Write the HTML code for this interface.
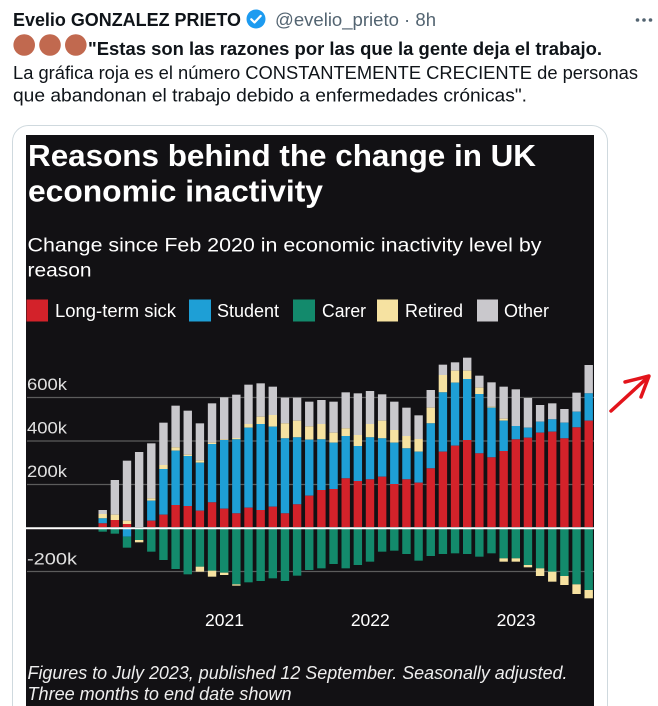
<!DOCTYPE html>
<html><head><meta charset="utf-8"><style>
html,body{margin:0;padding:0;background:#fff;width:658px;height:706px;overflow:hidden}
svg{display:block}
.t{font-family:"Liberation Sans",Arial,sans-serif}
.G{fill:#c9c8cc}.Y{fill:#f6e2a1}.B{fill:#1e9fd6}.R{fill:#d3222a}.N{fill:#138a6c}
</style></head><body>
<svg width="658" height="706" viewBox="0 0 658 706" xmlns="http://www.w3.org/2000/svg">
<rect width="658" height="706" fill="#fff"/>
<!-- tweet header -->
<text class="t" x="13" y="26" font-size="18.5" font-weight="bold" fill="#0f1419" textLength="228" lengthAdjust="spacingAndGlyphs">Evelio GONZALEZ PRIETO</text>
<circle cx="256" cy="19" r="9.5" fill="#1d9bf0"/>
<path d="M251.3,19.3 l3.2,3.2 l6.2,-6.6" stroke="#fff" stroke-width="2.2" fill="none" stroke-linecap="round" stroke-linejoin="round"/>
<text class="t" x="275" y="26" font-size="18" fill="#536471" textLength="161" lengthAdjust="spacingAndGlyphs">@evelio_prieto · 8h</text>
<circle cx="637.5" cy="20" r="1.8" fill="#536471"/><circle cx="644" cy="20" r="1.8" fill="#536471"/><circle cx="650.5" cy="20" r="1.8" fill="#536471"/>
<circle cx="24.2" cy="45" r="10.8" fill="#c1694f"/><circle cx="50" cy="45" r="10.8" fill="#c1694f"/><circle cx="75.8" cy="45" r="10.8" fill="#c1694f"/>
<text class="t" x="88" y="55" font-size="18.5" font-weight="bold" fill="#0f1419" textLength="514" lengthAdjust="spacingAndGlyphs">"Estas son las razones por las que la gente deja el trabajo.</text>
<text class="t" x="13" y="79" font-size="18.5" fill="#0f1419" textLength="625" lengthAdjust="spacingAndGlyphs">La gráfica roja es el número CONSTANTEMENTE CRECIENTE de personas</text>
<text class="t" x="13" y="101.5" font-size="18.5" fill="#0f1419" textLength="514" lengthAdjust="spacingAndGlyphs">que abandonan el trabajo debido a enfermedades crónicas".</text>
<!-- card -->
<path d="M12.5,706 V141.5 A16,16 0 0 1 28.5,125.5 H591.5 A16,16 0 0 1 607.5,141.5 V706" fill="#fff" stroke="#cfd9de" stroke-width="1"/>
<rect x="26" y="135" width="568" height="571" fill="#121114"/>
<!-- title -->
<text class="t" x="28" y="166" font-size="31" font-weight="bold" fill="#fff" textLength="508" lengthAdjust="spacingAndGlyphs">Reasons behind the change in UK</text>
<text class="t" x="28" y="201.5" font-size="31" font-weight="bold" fill="#fff" textLength="295" lengthAdjust="spacingAndGlyphs">economic inactivity</text>
<text class="t" x="27.5" y="251.5" font-size="19.5" fill="#fff" textLength="514" lengthAdjust="spacingAndGlyphs">Change since Feb 2020 in economic inactivity level by</text>
<text class="t" x="27.5" y="276.5" font-size="19.5" fill="#fff" textLength="64" lengthAdjust="spacingAndGlyphs">reason</text>
<!-- legend -->
<rect x="26.5" y="299.5" width="21.5" height="22" class="R"/>
<text class="t" x="55" y="317" font-size="18.5" fill="#fff" textLength="121" lengthAdjust="spacingAndGlyphs">Long-term sick</text>
<rect x="189" y="299.5" width="22" height="22" class="B"/>
<text class="t" x="217" y="317" font-size="18.5" fill="#fff" textLength="62" lengthAdjust="spacingAndGlyphs">Student</text>
<rect x="293" y="299.5" width="22" height="22" class="N"/>
<text class="t" x="322" y="317" font-size="18.5" fill="#fff" textLength="44" lengthAdjust="spacingAndGlyphs">Carer</text>
<rect x="377" y="299.5" width="21" height="22" class="Y"/>
<text class="t" x="405" y="317" font-size="18.5" fill="#fff" textLength="58" lengthAdjust="spacingAndGlyphs">Retired</text>
<rect x="477" y="299.5" width="21" height="22" class="G"/>
<text class="t" x="504" y="317" font-size="18.5" fill="#fff" textLength="45" lengthAdjust="spacingAndGlyphs">Other</text>
<!-- grid -->
<g stroke="#5c5c5c" stroke-width="1.2">
<line x1="27" y1="397.5" x2="594" y2="397.5"/>
<line x1="27" y1="441" x2="594" y2="441"/>
<line x1="27" y1="484.5" x2="594" y2="484.5"/>
<line x1="27" y1="571.5" x2="594" y2="571.5"/>
</g>
<g class="t" font-size="17" fill="#e0e0e0">
<text x="27" y="390" textLength="40" lengthAdjust="spacingAndGlyphs">600k</text>
<text x="27" y="433.5" textLength="40" lengthAdjust="spacingAndGlyphs">400k</text>
<text x="27" y="477" textLength="40" lengthAdjust="spacingAndGlyphs">200k</text>
<text x="27" y="564.5" textLength="50" lengthAdjust="spacingAndGlyphs">-200k</text>
</g>
<!-- bars -->
<g transform="translate(0,350) scale(1,0.3333333)">
<g transform="translate(98.5,0)"><rect class="G" y="480" width="8.4" height="12"/><rect class="Y" y="492" width="8.4" height="13"/><rect class="B" y="505" width="8.4" height="15"/><rect class="R" y="520" width="8.4" height="11"/><rect class="N" y="536" width="8.4" height="9"/></g>
<g transform="translate(110.65,0)"><rect class="G" y="390" width="8.4" height="104"/><rect class="Y" y="494" width="8.4" height="16"/><rect class="R" y="510" width="8.4" height="21"/><rect class="N" y="536" width="8.4" height="15"/></g>
<g transform="translate(122.8,0)"><rect class="G" y="332" width="8.4" height="180"/><rect class="Y" y="512" width="8.4" height="10"/><rect class="R" y="522" width="8.4" height="9"/><rect class="B" y="536" width="8.4" height="24"/><rect class="N" y="560" width="8.4" height="33"/></g>
<g transform="translate(134.95,0)"><rect class="G" y="306" width="8.4" height="225"/><rect class="N" y="536" width="8.4" height="34"/><rect class="Y" y="570" width="8.4" height="7"/></g>
<g transform="translate(147.1,0)"><rect class="G" y="280" width="8.4" height="165"/><rect class="Y" y="445" width="8.4" height="7"/><rect class="B" y="452" width="8.4" height="60"/><rect class="R" y="512" width="8.4" height="19"/><rect class="N" y="536" width="8.4" height="69"/></g>
<g transform="translate(159.25,0)"><rect class="G" y="218" width="8.4" height="127"/><rect class="Y" y="345" width="8.4" height="12"/><rect class="B" y="357" width="8.4" height="137"/><rect class="R" y="494" width="8.4" height="37"/><rect class="N" y="536" width="8.4" height="94"/></g>
<g transform="translate(171.4,0)"><rect class="G" y="167" width="8.4" height="125"/><rect class="Y" y="292" width="8.4" height="10"/><rect class="B" y="302" width="8.4" height="163"/><rect class="R" y="465" width="8.4" height="66"/><rect class="N" y="536" width="8.4" height="121"/></g>
<g transform="translate(183.55,0)"><rect class="G" y="182" width="8.4" height="132"/><rect class="Y" y="314" width="8.4" height="4"/><rect class="B" y="318" width="8.4" height="150"/><rect class="R" y="468" width="8.4" height="63"/><rect class="N" y="536" width="8.4" height="137"/></g>
<g transform="translate(195.7,0)"><rect class="G" y="220" width="8.4" height="111"/><rect class="Y" y="331" width="8.4" height="7"/><rect class="B" y="338" width="8.4" height="144"/><rect class="R" y="482" width="8.4" height="49"/><rect class="N" y="536" width="8.4" height="114"/><rect class="Y" y="650" width="8.4" height="15"/></g>
<g transform="translate(207.85,0)"><rect class="G" y="160" width="8.4" height="118"/><rect class="Y" y="278" width="8.4" height="4"/><rect class="B" y="282" width="8.4" height="175"/><rect class="R" y="457" width="8.4" height="74"/><rect class="N" y="536" width="8.4" height="126"/><rect class="Y" y="662" width="8.4" height="18"/></g>
<g transform="translate(220,0)"><rect class="G" y="142" width="8.4" height="126"/><rect class="Y" y="268" width="8.4" height="2"/><rect class="B" y="270" width="8.4" height="206"/><rect class="R" y="476" width="8.4" height="55"/><rect class="N" y="536" width="8.4" height="132"/><rect class="Y" y="668" width="8.4" height="7"/></g>
<g transform="translate(232.15,0)"><rect class="G" y="134" width="8.4" height="130"/><rect class="Y" y="264" width="8.4" height="4"/><rect class="B" y="268" width="8.4" height="222"/><rect class="R" y="490" width="8.4" height="41"/><rect class="N" y="536" width="8.4" height="167"/><rect class="Y" y="703" width="8.4" height="4"/></g>
<g transform="translate(244.3,0)"><rect class="G" y="104" width="8.4" height="118"/><rect class="Y" y="222" width="8.4" height="11"/><rect class="B" y="233" width="8.4" height="240"/><rect class="R" y="473" width="8.4" height="58"/><rect class="N" y="536" width="8.4" height="161"/></g>
<g transform="translate(256.45,0)"><rect class="G" y="100" width="8.4" height="100"/><rect class="Y" y="200" width="8.4" height="22"/><rect class="B" y="222" width="8.4" height="258"/><rect class="R" y="480" width="8.4" height="51"/><rect class="N" y="536" width="8.4" height="157"/></g>
<g transform="translate(268.6,0)"><rect class="G" y="110" width="8.4" height="85"/><rect class="Y" y="195" width="8.4" height="35"/><rect class="B" y="230" width="8.4" height="240"/><rect class="R" y="470" width="8.4" height="61"/><rect class="N" y="536" width="8.4" height="149"/></g>
<g transform="translate(280.75,0)"><rect class="G" y="143" width="8.4" height="77"/><rect class="Y" y="220" width="8.4" height="45"/><rect class="B" y="265" width="8.4" height="225"/><rect class="R" y="490" width="8.4" height="41"/><rect class="N" y="536" width="8.4" height="157"/></g>
<g transform="translate(292.9,0)"><rect class="G" y="143" width="8.4" height="69"/><rect class="Y" y="212" width="8.4" height="50"/><rect class="B" y="262" width="8.4" height="201"/><rect class="R" y="463" width="8.4" height="68"/><rect class="N" y="536" width="8.4" height="141"/></g>
<g transform="translate(305.05,0)"><rect class="G" y="155" width="8.4" height="74"/><rect class="Y" y="229" width="8.4" height="40"/><rect class="B" y="269" width="8.4" height="168"/><rect class="R" y="437" width="8.4" height="94"/><rect class="N" y="536" width="8.4" height="124"/></g>
<g transform="translate(317.2,0)"><rect class="G" y="150" width="8.4" height="72"/><rect class="Y" y="222" width="8.4" height="46"/><rect class="B" y="268" width="8.4" height="152"/><rect class="R" y="420" width="8.4" height="111"/><rect class="N" y="536" width="8.4" height="119"/></g>
<g transform="translate(329.35,0)"><rect class="G" y="155" width="8.4" height="93"/><rect class="Y" y="248" width="8.4" height="30"/><rect class="B" y="278" width="8.4" height="139"/><rect class="R" y="417" width="8.4" height="114"/><rect class="N" y="536" width="8.4" height="106"/></g>
<g transform="translate(341.5,0)"><rect class="G" y="127" width="8.4" height="108"/><rect class="Y" y="235" width="8.4" height="23"/><rect class="B" y="258" width="8.4" height="127"/><rect class="R" y="385" width="8.4" height="146"/><rect class="N" y="536" width="8.4" height="119"/></g>
<g transform="translate(353.65,0)"><rect class="G" y="130" width="8.4" height="125"/><rect class="Y" y="255" width="8.4" height="33"/><rect class="B" y="288" width="8.4" height="105"/><rect class="R" y="393" width="8.4" height="138"/><rect class="N" y="536" width="8.4" height="109"/></g>
<g transform="translate(365.8,0)"><rect class="G" y="123" width="8.4" height="99"/><rect class="Y" y="222" width="8.4" height="40"/><rect class="B" y="262" width="8.4" height="126"/><rect class="R" y="388" width="8.4" height="143"/><rect class="N" y="536" width="8.4" height="99"/></g>
<g transform="translate(377.95,0)"><rect class="G" y="133" width="8.4" height="79"/><rect class="Y" y="212" width="8.4" height="53"/><rect class="B" y="265" width="8.4" height="115"/><rect class="R" y="380" width="8.4" height="151"/><rect class="N" y="536" width="8.4" height="69"/></g>
<g transform="translate(390.1,0)"><rect class="G" y="155" width="8.4" height="85"/><rect class="Y" y="240" width="8.4" height="38"/><rect class="B" y="278" width="8.4" height="124"/><rect class="R" y="402" width="8.4" height="129"/><rect class="N" y="536" width="8.4" height="66"/></g>
<g transform="translate(402.25,0)"><rect class="G" y="173" width="8.4" height="85"/><rect class="Y" y="258" width="8.4" height="37"/><rect class="B" y="295" width="8.4" height="93"/><rect class="R" y="388" width="8.4" height="143"/><rect class="N" y="536" width="8.4" height="76"/></g>
<g transform="translate(414.4,0)"><rect class="G" y="196" width="8.4" height="71"/><rect class="Y" y="267" width="8.4" height="38"/><rect class="B" y="305" width="8.4" height="93"/><rect class="R" y="398" width="8.4" height="133"/><rect class="N" y="536" width="8.4" height="96"/></g>
<g transform="translate(426.55,0)"><rect class="G" y="120" width="8.4" height="53"/><rect class="Y" y="173" width="8.4" height="47"/><rect class="B" y="220" width="8.4" height="135"/><rect class="R" y="355" width="8.4" height="176"/><rect class="N" y="536" width="8.4" height="82"/></g>
<g transform="translate(438.7,0)"><rect class="G" y="44" width="8.4" height="31"/><rect class="Y" y="75" width="8.4" height="52"/><rect class="B" y="127" width="8.4" height="178"/><rect class="R" y="305" width="8.4" height="226"/><rect class="N" y="536" width="8.4" height="76"/></g>
<g transform="translate(450.85,0)"><rect class="G" y="37" width="8.4" height="25"/><rect class="Y" y="62" width="8.4" height="36"/><rect class="B" y="98" width="8.4" height="189"/><rect class="R" y="287" width="8.4" height="244"/><rect class="N" y="536" width="8.4" height="74"/></g>
<g transform="translate(463,0)"><rect class="G" y="23" width="8.4" height="39"/><rect class="Y" y="62" width="8.4" height="25"/><rect class="B" y="87" width="8.4" height="183"/><rect class="R" y="270" width="8.4" height="261"/><rect class="N" y="536" width="8.4" height="76"/></g>
<g transform="translate(475.15,0)"><rect class="G" y="77" width="8.4" height="36"/><rect class="Y" y="113" width="8.4" height="19"/><rect class="B" y="132" width="8.4" height="178"/><rect class="R" y="310" width="8.4" height="221"/><rect class="N" y="536" width="8.4" height="84"/></g>
<g transform="translate(487.3,0)"><rect class="G" y="97" width="8.4" height="73"/><rect class="Y" y="170" width="8.4" height="3"/><rect class="B" y="173" width="8.4" height="149"/><rect class="R" y="322" width="8.4" height="209"/><rect class="N" y="536" width="8.4" height="74"/></g>
<g transform="translate(499.45,0)"><rect class="G" y="110" width="8.4" height="96"/><rect class="Y" y="206" width="8.4" height="6"/><rect class="B" y="212" width="8.4" height="91"/><rect class="R" y="303" width="8.4" height="228"/><rect class="N" y="536" width="8.4" height="89"/><rect class="Y" y="625" width="8.4" height="10"/></g>
<g transform="translate(511.6,0)"><rect class="G" y="118" width="8.4" height="110"/><rect class="B" y="228" width="8.4" height="40"/><rect class="R" y="268" width="8.4" height="263"/><rect class="N" y="536" width="8.4" height="89"/><rect class="Y" y="625" width="8.4" height="10"/></g>
<g transform="translate(523.75,0)"><rect class="G" y="144" width="8.4" height="89"/><rect class="B" y="233" width="8.4" height="30"/><rect class="R" y="263" width="8.4" height="268"/><rect class="N" y="536" width="8.4" height="109"/><rect class="Y" y="645" width="8.4" height="7"/></g>
<g transform="translate(535.9,0)"><rect class="G" y="165" width="8.4" height="50"/><rect class="B" y="215" width="8.4" height="33"/><rect class="R" y="248" width="8.4" height="283"/><rect class="N" y="536" width="8.4" height="119"/><rect class="Y" y="655" width="8.4" height="23"/></g>
<g transform="translate(548.05,0)"><rect class="G" y="160" width="8.4" height="48"/><rect class="B" y="208" width="8.4" height="37"/><rect class="R" y="245" width="8.4" height="286"/><rect class="N" y="536" width="8.4" height="129"/><rect class="Y" y="665" width="8.4" height="30"/></g>
<g transform="translate(560.2,0)"><rect class="G" y="177" width="8.4" height="41"/><rect class="B" y="218" width="8.4" height="47"/><rect class="R" y="265" width="8.4" height="266"/><rect class="N" y="536" width="8.4" height="142"/><rect class="Y" y="678" width="8.4" height="27"/></g>
<g transform="translate(572.35,0)"><rect class="G" y="128" width="8.4" height="57"/><rect class="B" y="185" width="8.4" height="47"/><rect class="R" y="232" width="8.4" height="299"/><rect class="N" y="536" width="8.4" height="167"/><rect class="Y" y="703" width="8.4" height="29"/></g>
<g transform="translate(584.5,0)"><rect class="G" y="45" width="8.4" height="85"/><rect class="B" y="130" width="8.4" height="82"/><rect class="R" y="212" width="8.4" height="319"/><rect class="N" y="536" width="8.4" height="184"/><rect class="Y" y="720" width="8.4" height="25"/></g>
</g>
<!-- zero line -->
<line x1="26" y1="528.3" x2="594" y2="528.3" stroke="#fff" stroke-width="2"/>
<!-- x labels -->
<g class="t" font-size="17.5" fill="#fff" text-anchor="middle">
<text x="224.5" y="626">2021</text>
<text x="370.3" y="626">2022</text>
<text x="516.1" y="626">2023</text>
</g>
<!-- footnote -->
<text class="t" x="27.5" y="679" font-size="18" font-style="italic" fill="#eee" textLength="540" lengthAdjust="spacingAndGlyphs">Figures to July 2023, published 12 September. Seasonally adjusted.</text>
<text class="t" x="27.5" y="700" font-size="18" font-style="italic" fill="#eee" textLength="264" lengthAdjust="spacingAndGlyphs">Three months to end date shown</text>
<!-- red arrow -->
<g stroke="#e3141b" stroke-width="3.5" fill="none" stroke-linecap="round" stroke-linejoin="round">
<path d="M611,411 L647,378"/>
<path d="M625,382 L649,376 L641,397"/>
</g>
</svg>
</body></html>
